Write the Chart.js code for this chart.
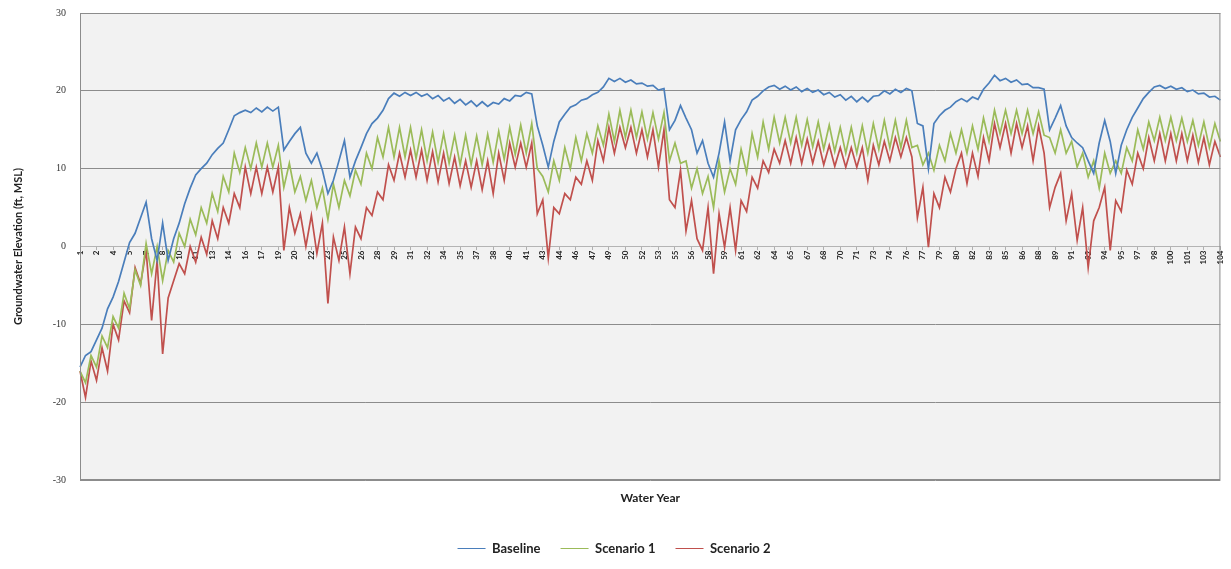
<!DOCTYPE html>
<html>
<head>
<meta charset="utf-8">
<script src="https://cdn.jsdelivr.net/npm/chart.js@4.4.1/dist/chart.umd.min.js"></script>
<style>
  html, body { margin: 0; padding: 0; background: #fff; }
  #wrap { width: 1231px; height: 569px; }
</style>
</head>
<body>
<div id="wrap"><canvas id="gwChart"></canvas></div>
<script>
// water years, two readings per year (high / low of the season)
const years = Array.from({ length: 104 }, (_, i) => i + 1);

const baseline = [
  -15.5, -14, -13.5, -12, -10.5, -8, -6.5, -4.5, -2, 0.5, 1.7, 3.7, 5.7, 1, -1.8, 3, -1.8, 1, 3, 5.5,
  7.5, 9.2, 10, 10.7, 11.8, 12.6, 13.3, 15, 16.8, 17.2, 17.5, 17.2, 17.8, 17.3, 17.9, 17.4, 17.9, 12.4, 13.5, 14.5,
  15.3, 12, 10.7, 12, 9.8, 6.8, 8.5, 11, 13.6, 8.9, 11, 12.7, 14.5, 15.8, 16.5, 17.5, 19, 19.7, 19.3, 19.8,
  19.4, 19.8, 19.3, 19.6, 19, 19.4, 18.7, 19.1, 18.4, 18.9, 18.2, 18.7, 18, 18.6, 18, 18.5, 18.3, 19, 18.7, 19.4,
  19.3, 19.8, 19.6, 15.5, 13, 10.2, 13.5, 16, 17, 17.9, 18.2, 18.8, 19, 19.5, 19.8, 20.5, 21.6, 21.2, 21.6, 21.1,
  21.4, 20.9, 21, 20.6, 20.7, 20.1, 20.3, 15, 16.2, 18.1, 16.5, 15, 12, 13.6, 10.7, 8.9, 12, 16, 11, 15,
  16.3, 17.3, 18.8, 19.3, 20, 20.5, 20.7, 20.2, 20.6, 20.1, 20.5, 19.9, 20.3, 19.8, 20.1, 19.5, 19.8, 19.2, 19.5, 18.8,
  19.3, 18.6, 19.2, 18.6, 19.3, 19.4, 20, 19.6, 20.2, 19.8, 20.3, 20, 15.8, 15.5, 10, 15.8, 16.8, 17.5, 17.9, 18.6,
  19, 18.6, 19.2, 18.9, 20.2, 21, 22, 21.3, 21.6, 21.1, 21.4, 20.8, 20.9, 20.4, 20.4, 20.2, 15, 16.5, 18.1, 15.5,
  14, 13.3, 12.7, 11, 9.4, 13.3, 16.2, 13.5, 9.4, 13, 15, 16.6, 17.8, 19, 19.8, 20.5, 20.7, 20.3, 20.6, 20.2,
  20.4, 19.9, 20.1, 19.6, 19.7, 19.2, 19.3, 18.8
];

const scenario1 = [
  -16, -17.5, -14, -15.5, -11.5, -13, -9, -10.5, -6, -8, -3, -5, 0.4, -3.5, 0, -4.4, -0.5, -2, 1.7, 0,
  3.5, 1.5, 5, 3, 6.8, 4.5, 9, 7, 12, 9.5, 12.7, 10, 13.3, 10.2, 13.3, 10.2, 13, 7.6, 10.7, 7,
  9, 5.9, 8.5, 5, 7.5, 3.5, 8, 5, 8.5, 6.5, 9.8, 8, 12, 10, 14, 11.5, 15.3, 11.5, 15.3, 11.5,
  15.3, 11.3, 15, 11, 14.7, 10.8, 14.5, 10.7, 14.3, 10.5, 14.3, 10.5, 14.2, 10.5, 14.4, 10.8, 14.8, 11.2, 15.3, 11.8,
  15.6, 12, 15.8, 10, 9, 7, 11, 8.5, 12.7, 10, 14, 11, 14.5, 12, 15.5, 13, 17, 13.5, 17.5, 14,
  17.5, 14, 17.3, 13.8, 17.2, 13.8, 17.2, 11, 13.3, 10.7, 11, 7.5, 10, 6.8, 9, 5, 11, 7, 10, 8,
  12.5, 9.5, 14.5, 11.5, 16, 12.5, 16.6, 13.3, 16.6, 13.3, 16.6, 13, 16.3, 12.8, 16, 12.5, 15.6, 12.2, 15.3, 12,
  15.3, 12, 15.5, 12, 15.8, 12.5, 16.2, 12.7, 16.2, 12.7, 16.2, 12.7, 13, 10.5, 12, 9.8, 13, 11, 14.5, 12,
  15, 12, 15.5, 12.5, 16.5, 13.5, 17.5, 14.5, 17.5, 14.5, 17.5, 14.5, 17.5, 14.5, 17.3, 14.3, 14, 12, 15, 12,
  13.5, 10.2, 12, 8.9, 11, 7.5, 12, 9.4, 11, 9.4, 12.7, 11, 15, 12.5, 16, 13.6, 16.6, 13.6, 16.6, 13.6,
  16.5, 13.5, 16.2, 13, 16, 12.7, 15.8, 13.5
];

const scenario2 = [
  -16, -19.4, -14.7, -17.2, -13, -16, -10, -12, -7, -8.5, -2.7, -4.8, -0.5, -9.5, -1.8, -13.8, -6.6, -4.4, -2.2, -3.5,
  0, -2, 1.2, -1, 3.3, 1, 5, 3, 6.8, 5, 10.2, 6.8, 10.2, 6.8, 10.2, 7, 10.2, -0.5, 5, 1.7,
  4.2, 0, 4, -0.9, 3, -7.3, 1.2, -1.8, 2.5, -3.5, 2.5, 1, 5, 4, 7, 6, 10.5, 8.5, 12, 8.9,
  12.4, 8.9, 12.4, 8.5, 12.2, 8.3, 12, 8.1, 11.5, 7.8, 11, 7.6, 11, 7.3, 11, 6.8, 12, 8.5, 13.3, 10.2,
  13.3, 10.2, 13.3, 4.2, 6, -1.5, 5, 4.2, 6.8, 6, 8.9, 8, 11, 8.5, 13.6, 11, 15.3, 12, 15.3, 12.7,
  15.3, 12, 15, 11.5, 15, 10.2, 15, 6, 5, 9.8, 2, 5.9, 1, -0.5, 5, -3.5, 4.2, -0.1, 5, -0.5,
  5.9, 4.5, 8.9, 7.5, 11, 9.5, 12.5, 10.7, 13.6, 10.7, 14, 10.7, 13.8, 10.7, 13.5, 10.5, 13, 10.3, 12.7, 10.2,
  12.7, 10.2, 12.7, 8.5, 13, 10.5, 13.5, 11, 14, 11.5, 14, 11.5, 3.7, 7.6, -0.1, 6.8, 5, 8.9, 7, 10,
  12, 8.1, 12, 9, 14, 11, 15.8, 12.7, 15.8, 12, 15.8, 12.7, 15.5, 11, 15.5, 12, 5, 7.6, 9.4, 3.3,
  6.8, 0.8, 5, -2.7, 3.3, 5, 7.6, -0.5, 5.9, 4.5, 9.8, 8, 12, 10, 14, 11, 14.5, 11, 14.5, 11,
  14.5, 11, 14.3, 10.8, 14, 10.5, 13.5, 11.5
];

const yTicks = [-30, -20, -10, 0, 10, 20, 30];

// each year appears twice on the category axis (two readings)
const labels = years.flatMap(y => [String(y), String(y)]);

Chart.defaults.font.family = 'Lato, "Open Sans", sans-serif';
Chart.defaults.color = '#222';

// grey plot background and frame, like the spreadsheet chart
const plotFrame = {
  id: 'plotFrame',
  beforeDraw(chart) {
    const { ctx, chartArea: a } = chart;
    ctx.save();
    ctx.fillStyle = '#f2f2f2';
    ctx.fillRect(a.left, a.top, a.right - a.left, a.bottom - a.top);
    ctx.restore();
  },
  afterDraw(chart) {
    const { ctx, chartArea: a } = chart;
    ctx.save();
    ctx.strokeStyle = '#8c8c8c';
    ctx.lineWidth = 1;
    ctx.strokeRect(a.left + 0.5, a.top + 0.5, a.right - a.left - 1, a.bottom - a.top - 1);
    ctx.restore();
  }
};

new Chart(document.getElementById('gwChart'), {
  type: 'line',
  data: {
    labels: labels,
    datasets: [
      { label: 'Baseline', data: baseline, borderColor: '#4a7ebb', backgroundColor: '#4a7ebb', xAxisID: 'x' },
      { label: 'Scenario 1', data: scenario1, borderColor: '#9bbb59', backgroundColor: '#9bbb59', xAxisID: 'x' },
      { label: 'Scenario 2', data: scenario2, borderColor: '#c0504d', backgroundColor: '#c0504d', xAxisID: 'x' }
    ]
  },
  options: {
    responsive: true,
    maintainAspectRatio: false,
    animation: false,
    layout: { padding: { left: 0, right: 3, top: 13, bottom: 4 } },
    elements: {
      point: { radius: 0 },
      line: { borderWidth: 1.7, tension: 0 }
    },
    plugins: {
      legend: {
        position: 'bottom',
        labels: {
          usePointStyle: true,
          pointStyle: 'line',
          pointStyleWidth: 28,
          padding: 20,
          color: '#222',
          font: { size: 13, weight: 'bold' }
        }
      },
      tooltip: { enabled: false }
    },
    scales: {
      x: {
        axis: 'x',
        type: 'category',
        position: { y: 0 },
        offset: false,
        grid: { drawOnChartArea: false, drawTicks: true, tickLength: 3, color: '#b0b0b0' },
        border: { display: true, color: '#b4b4b4', dash: [3, 2] },
        ticks: {
          autoSkip: true,
          autoSkipPadding: 5,
          minRotation: 90,
          maxRotation: 90,
          padding: 1,
          font: { size: 8, weight: 'bold' },
          color: '#222'
        }
      },
      xTitle: {
        axis: 'x',
        type: 'category',
        position: 'bottom',
        grid: { display: false },
        border: { display: false },
        ticks: { display: false },
        title: {
          display: true,
          text: 'Water Year',
          font: { size: 12, weight: 'bold' },
          color: '#222',
          padding: { top: 0, bottom: 17 }
        },
        afterFit: s => { s.height = 42; }
      },
      y: {
        min: -30,
        max: 30,
        afterBuildTicks: s => { s.ticks = yTicks.map(v => ({ value: v })); },
        grid: {
          drawTicks: true,
          tickLength: 12,
          tickColor: 'rgba(0,0,0,0)',
          color: c => (c.tick && c.tick.value === 0) ? 'rgba(0,0,0,0)' : '#8c8c8c'
        },
        border: { display: true, color: '#8c8c8c' },
        ticks: {
          padding: 2,
          font: { family: '"Liberation Serif", serif', size: 10 },
          color: '#333'
        },
        title: {
          display: true,
          text: 'Groundwater Elevation (ft, MSL)',
          font: { size: 11, weight: 'bold' },
          color: '#222',
          padding: { top: 12, bottom: 0 }
        },
        afterFit: s => { s.width = 80; }
      }
    }
  },
  plugins: [plotFrame]
});
</script>
</body>
</html>
